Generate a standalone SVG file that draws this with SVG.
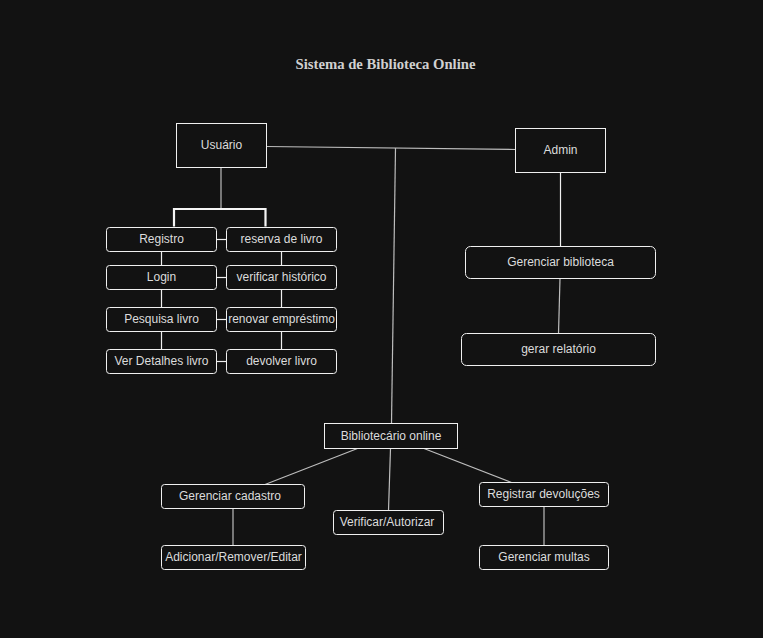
<svg xmlns="http://www.w3.org/2000/svg" width="763" height="638" viewBox="0 0 763 638">
<style>
.bg{fill:#121212}
.box{fill:#121212;stroke:#f0f0f0;stroke-width:1}
.t{font-family:"Liberation Sans",Arial,sans-serif;font-size:12px;fill:#dcdcdc;text-anchor:middle;dominant-baseline:central}
.title{font-family:"Liberation Serif","Times New Roman",serif;font-size:14.7px;font-weight:bold;fill:#d0d0d0;text-anchor:middle}
.c{stroke:#bdbdbd;stroke-width:1.2;fill:none}
.cw{stroke:#f0f0f0;stroke-width:1.2;fill:none}
.br{stroke:#f5f5f5;stroke-width:2.2;fill:none}
</style>
<rect class="bg" x="0" y="0" width="763" height="638"/>
<text class="title" x="385.5" y="69">Sistema de Biblioteca Online</text>
<g id="connectors">
<line class="c" x1="266" y1="146.5" x2="515.5" y2="149.5"/>
<line class="c" x1="395.5" y1="148" x2="391.5" y2="423.5"/>
<line class="c" x1="221" y1="167.5" x2="221" y2="209"/>
<path class="br" d="M174 226.5 V209 H265.5 V226.5"/>
<line class="cw" x1="560.5" y1="172.5" x2="560.5" y2="246.5"/>
<line class="c" x1="560" y1="278.5" x2="558.5" y2="333.5"/>
<line class="cw" x1="161.5" y1="251.5" x2="161.5" y2="265.5"/>
<line class="cw" x1="161.5" y1="289.5" x2="161.5" y2="307.5"/>
<line class="cw" x1="161.5" y1="331.5" x2="161.5" y2="349.5"/>
<line class="cw" x1="281.5" y1="251.5" x2="281.5" y2="265.5"/>
<line class="cw" x1="281.5" y1="289.5" x2="281.5" y2="307.5"/>
<line class="cw" x1="281.5" y1="331.5" x2="281.5" y2="349.5"/>
<line class="cw" x1="216.5" y1="239.5" x2="226.5" y2="239.5"/>
<line class="cw" x1="216.5" y1="277.5" x2="226.5" y2="277.5"/>
<line class="cw" x1="216.5" y1="319.5" x2="226.5" y2="319.5"/>
<line class="cw" x1="216.5" y1="361.5" x2="226.5" y2="361.5"/>
<line class="c" x1="357.5" y1="448.5" x2="265" y2="484.5"/>
<line class="c" x1="390.5" y1="448.5" x2="388.5" y2="510.5"/>
<line class="c" x1="424" y1="448.5" x2="511.5" y2="482.5"/>
<line class="c" x1="233" y1="508.5" x2="233" y2="545.5"/>
<line class="c" x1="544" y1="506.5" x2="544" y2="545.5"/>
</g>
<g id="usuario"><rect class="box" x="176.5" y="123.5" width="90" height="44"/><text class="t" x="221.5" y="145">Usuário</text></g>
<g id="admin"><rect class="box" x="515.5" y="128.5" width="90" height="44"/><text class="t" x="560.5" y="150">Admin</text></g>
<g id="registro"><rect class="box" x="106.5" y="227.5" width="110" height="24" rx="3"/><text class="t" x="161.5" y="239">Registro</text></g>
<g id="login"><rect class="box" x="106.5" y="265.5" width="110" height="24" rx="3"/><text class="t" x="161.5" y="277">Login</text></g>
<g id="pesquisa"><rect class="box" x="106.5" y="307.5" width="110" height="24" rx="3"/><text class="t" x="161.5" y="319">Pesquisa livro</text></g>
<g id="detalhes"><rect class="box" x="106.5" y="349.5" width="110" height="24" rx="3"/><text class="t" x="161.5" y="361">Ver Detalhes livro</text></g>
<g id="reserva"><rect class="box" x="226.5" y="227.5" width="110" height="24" rx="3"/><text class="t" x="281.5" y="239">reserva de livro</text></g>
<g id="historico"><rect class="box" x="226.5" y="265.5" width="110" height="24" rx="3"/><text class="t" x="281.5" y="277">verificar histórico</text></g>
<g id="renovar"><rect class="box" x="226.5" y="307.5" width="110" height="24" rx="3"/><text class="t" x="281.5" y="319">renovar empréstimo</text></g>
<g id="devolver"><rect class="box" x="226.5" y="349.5" width="110" height="24" rx="3"/><text class="t" x="281.5" y="361">devolver livro</text></g>
<g id="gerenciar-biblioteca"><rect class="box" x="465.5" y="246.5" width="190" height="32" rx="5"/><text class="t" x="560.5" y="262">Gerenciar biblioteca</text></g>
<g id="gerar-relatorio"><rect class="box" x="461.5" y="333.5" width="194" height="32" rx="5"/><text class="t" x="558.5" y="349">gerar relatório</text></g>
<g id="bibliotecario"><rect class="box" x="324.5" y="423.5" width="133" height="25"/><text class="t" x="391" y="435.5">Bibliotecário online</text></g>
<g id="gerenciar-cadastro"><rect class="box" x="161.5" y="484.5" width="143" height="24" rx="3"/><text class="t" x="230" y="496">Gerenciar cadastro</text></g>
<g id="verificar"><rect class="box" x="333.5" y="510.5" width="110" height="24" rx="3"/><text class="t" x="387" y="522">Verificar/Autorizar</text></g>
<g id="registrar"><rect class="box" x="479.5" y="482.5" width="129" height="24" rx="3"/><text class="t" x="543.5" y="494">Registrar devoluções</text></g>
<g id="adicionar"><rect class="box" x="161.5" y="545.5" width="144" height="24" rx="3"/><text class="t" x="233.5" y="557">Adicionar/Remover/Editar</text></g>
<g id="multas"><rect class="box" x="479.5" y="545.5" width="129" height="24" rx="3"/><text class="t" x="544" y="557">Gerenciar multas</text></g>
</svg>
